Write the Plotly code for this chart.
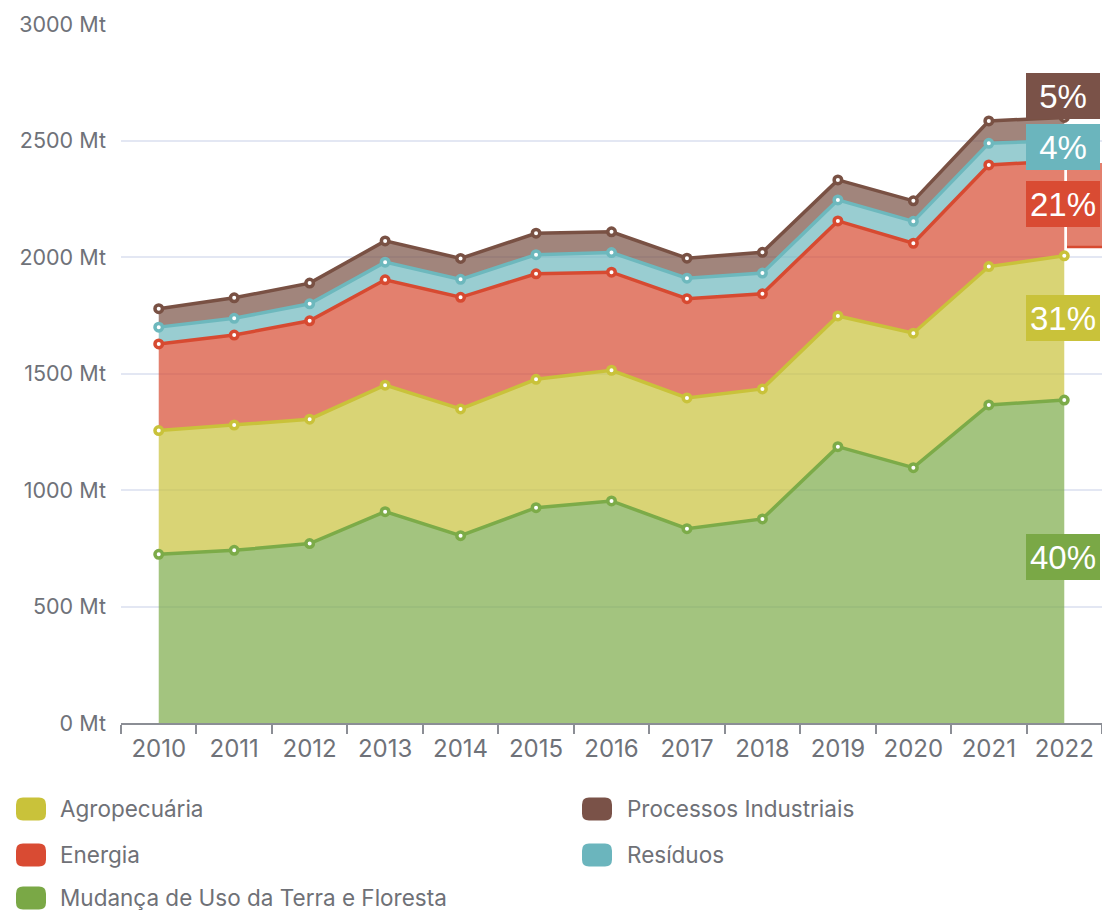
import plotly.graph_objects as go

years = ["2010", "2011", "2012", "2013", "2014", "2015", "2016",
         "2017", "2018", "2019", "2020", "2021", "2022"]

mut = [724, 741, 770, 907, 804, 924, 953, 834, 876, 1186, 1096, 1365, 1386]
agro = [531, 538, 534, 543, 544, 551, 561, 561, 558, 561, 577, 594, 619]
energia = [372, 386, 422, 452, 479, 453, 421, 426, 408, 408, 386, 436, 408]
residuos = [72, 72, 73, 76, 77, 82, 84, 88, 89, 90, 94, 93, 86]
processos = [79, 88, 89, 91, 90, 92, 89, 86, 89, 86, 88, 96, 100]

series_names = ["Mudança de Uso da Terra e Floresta", "Agropecuária", "Energia",
                "Resíduos", "Processos Industriais"]
series_values = [mut, agro, energia, residuos, processos]
line_colors = ["#7cab48", "#c9c23a", "#d74a31", "#6db8bd", "#795144"]
fill_colors = ["rgba(124,171,72,0.7)", "rgba(201,194,58,0.7)", "rgba(215,74,49,0.7)",
               "rgba(109,184,189,0.7)", "rgba(121,81,68,0.7)"]
box_colors = ["#7aa846", "#c9c23a", "#d94b33", "#6bb5bd", "#7a5248"]
pct_labels = ["40%", "31%", "21%", "4%", "5%"]

y_tickvals = [0, 500, 1000, 1500, 2000, 2500, 3000]
y_ticktext = ["0 Mt", "500 Mt", "1000 Mt", "1500 Mt", "2000 Mt", "2500 Mt", "3000 Mt"]

legend_col1 = ["Agropecuária", "Energia", "Mudança de Uso da Terra e Floresta"]
legend_col2 = ["Processos Industriais", "Resíduos"]

W, H = 1102, 910
ML, MR, MT, MB = 121, 0, 24, 187
PW = W - ML - MR
PH = H - MT - MB


def px_x(px):
    return (px - ML) / PW


def px_y(py):
    return (H - MB - py) / PH


fig = go.Figure()
for name, vals, lc, fc in zip(series_names, series_values, line_colors, fill_colors):
    fig.add_trace(go.Scatter(
        x=years, y=vals, name=name, stackgroup="one", mode="lines+markers",
        line=dict(color=lc, width=3.5), fillcolor=fc,
        marker=dict(size=7.5, color="white", line=dict(color=lc, width=3.5)),
        showlegend=False, hoverinfo="skip",
    ))

shapes = []
annotations = []

# red band right of 2022
shapes.append(dict(type="rect", xref="paper", yref="paper",
                   x0=px_x(1067), x1=1.0, y0=px_y(247), y1=px_y(163),
                   fillcolor="rgba(215,74,49,0.7)", line=dict(width=0), layer="above"))
shapes.append(dict(type="line", xref="paper", yref="paper",
                   x0=px_x(1067), x1=1.0, y0=px_y(247), y1=px_y(247),
                   line=dict(color="#d74a31", width=2.5), layer="above"))

# percent boxes
box_centers_px = [557, 318, 204, 147, 96.3]
for txt, col, cy in zip(pct_labels, box_colors, box_centers_px):
    annotations.append(dict(
        text=txt, xref="paper", yref="paper", x=px_x(1063), y=px_y(cy),
        xanchor="center", yanchor="middle", showarrow=False,
        width=74, height=46, bgcolor=col, borderpad=0, borderwidth=0,
        font=dict(family="Liberation Sans", size=33, color="white"),
    ))


def rounded_path(w, h, r):
    a, b = w / 2, h / 2
    return (f"M {-a + r},{-b} L {a - r},{-b} Q {a},{-b} {a},{-b + r} "
            f"L {a},{b - r} Q {a},{b} {a - r},{b} L {-a + r},{b} "
            f"Q {-a},{b} {-a},{b - r} L {-a},{-b + r} Q {-a},{-b} {-a + r},{-b} Z")


legend_colors = {"Agropecuária": box_colors[1], "Energia": box_colors[2],
                 "Mudança de Uso da Terra e Floresta": box_colors[0],
                 "Processos Industriais": box_colors[4], "Resíduos": box_colors[3]}
row_y = [809, 855, 898]
for col_items, sw_x, tx_x in [(legend_col1, 31, 58), (legend_col2, 597, 625)]:
    for item, ry in zip(col_items, row_y):
        shapes.append(dict(type="path", xref="paper", yref="paper",
                           xsizemode="pixel", ysizemode="pixel",
                           xanchor=px_x(sw_x), yanchor=px_y(ry),
                           path=rounded_path(30, 23, 7),
                           fillcolor=legend_colors[item], line=dict(width=0)))
        annotations.append(dict(
            text=item, xref="paper", yref="paper", x=px_x(tx_x), y=px_y(ry - 1),
            xanchor="left", yanchor="middle", showarrow=False,
            font=dict(family="Inter", size=22.5, color="#6f7177"),
        ))

fig.update_layout(
    width=W, height=H,
    margin=dict(l=ML, r=MR, t=MT, b=MB, autoexpand=False),
    paper_bgcolor="white", plot_bgcolor="white",
    shapes=shapes, annotations=annotations,
    showlegend=False,
    xaxis=dict(type="category", range=[-0.5, 12.5], tickson="boundaries",
               ticks="outside", ticklen=9, tickwidth=2, tickcolor="#8b8e95",
               showline=True, linecolor="#8b8e95", linewidth=2,
               showgrid=False, zeroline=False,
               tickfont=dict(family="Inter", size=24, color="#6f7279"),
               ticklabelstandoff=3),
    yaxis=dict(range=[0, 3000], tickvals=y_tickvals, ticktext=y_ticktext,
               showgrid=True, gridcolor="#e3e7f3", gridwidth=2,
               zeroline=False, showline=False, ticks="",
               tickfont=dict(family="Inter", size=21.5, color="#6f7279"),
               ticklabelstandoff=14),
)

fig.write_html("out.html", config={"displayModeBar": False},
               post_script="document.body.style.margin='0';"
                           "document.body.style.overflow='hidden';")
